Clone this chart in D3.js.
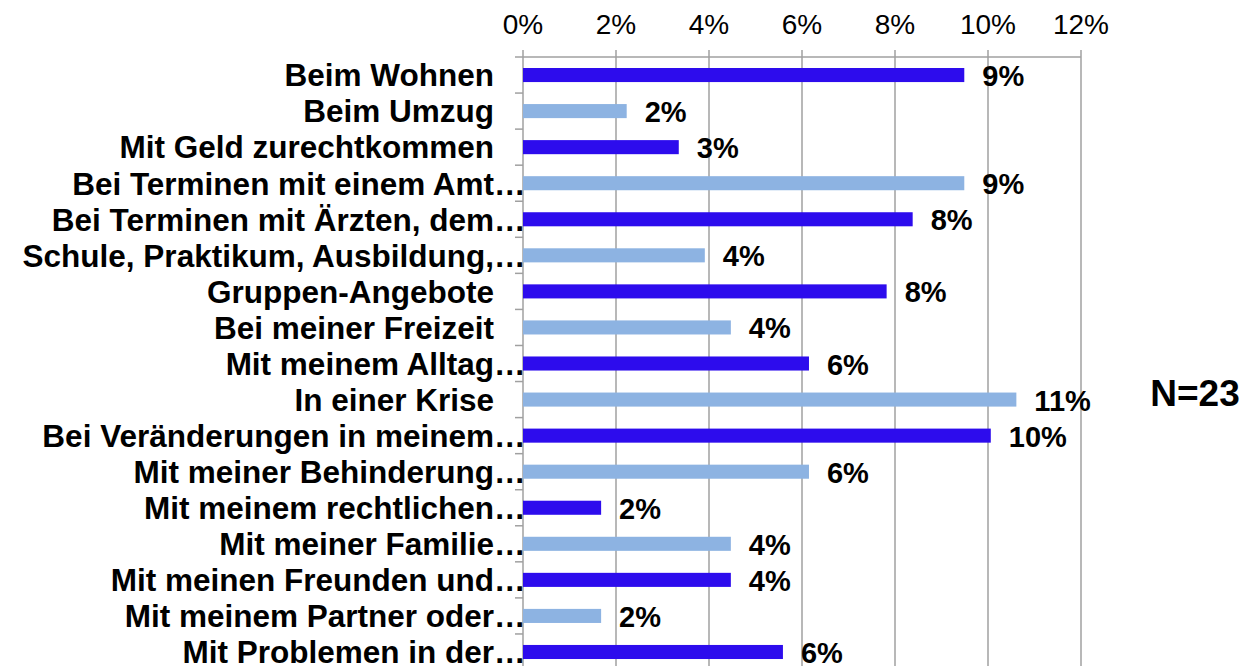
<!DOCTYPE html>
<meta charset="utf-8">
<style>
body { margin: 0; background: #fff; }
text { font-family: "Liberation Sans", Arial, sans-serif; }
.tick-label { font-size: 28px; }
.cat { font-size: 31.5px; font-weight: bold; }
.val { font-size: 29px; font-weight: bold; }
</style>
<body>
<div id="chart"></div>
<script src="https://d3js.org/d3.v7.min.js"></script>
<script>
// categories top to bottom, "…" marks labels cut off in the original
var categories = [
  "Beim Wohnen", "Beim Umzug", "Mit Geld zurechtkommen",
  "Bei Terminen mit einem Amt…", "Bei Terminen mit Ärzten, dem…",
  "Schule, Praktikum, Ausbildung,…", "Gruppen-Angebote", "Bei meiner Freizeit",
  "Mit meinem Alltag…", "In einer Krise", "Bei Veränderungen in meinem…",
  "Mit meiner Behinderung…", "Mit meinem rechtlichen…", "Mit meiner Familie…",
  "Mit meinen Freunden und…", "Mit meinem Partner oder…", "Mit Problemen in der…"
];
// percent
var values = [9.49, 2.23, 3.35, 9.49, 8.38, 3.91, 7.82, 4.47, 6.15, 10.61, 10.06, 6.15, 1.68, 4.47, 4.47, 1.68, 5.59];
var xTicks = [0, 2, 4, 6, 8, 10, 12];
var barColors = ["#2d0ced", "#8db3e2"];
var note = "N=23";

var width = 1253, height = 666;
var svg = d3.select("#chart").append("svg")
    .attr("width", width)
    .attr("height", height);

var x = d3.scaleLinear().domain([0, 12]).range([523, 1081]);
var y = d3.scaleBand().domain(categories).range([57, 57 + 17 * 36.06])
    .paddingInner(0.61).paddingOuter(0.305);
var pct = d3.format(".0%");

// grid lines
svg.append("g").selectAll("line")
    .data(xTicks)
  .enter().append("line")
    .attr("x1", function(d) { return x(d); })
    .attr("x2", function(d) { return x(d); })
    .attr("y1", 50)
    .attr("y2", height)
    .attr("stroke", "#a0a0a0")
    .attr("stroke-width", 1.5);

// top axis line
svg.append("line")
    .attr("x1", 515).attr("x2", x(12))
    .attr("y1", 57).attr("y2", 57)
    .attr("stroke", "#a0a0a0").attr("stroke-width", 1.5);

// left category ticks at band boundaries
svg.append("g").selectAll("line")
    .data(categories)
  .enter().append("line")
    .attr("x1", 515).attr("x2", x(0))
    .attr("y1", function(d) { return y(d) - y.step() * 0.305 + y.step(); })
    .attr("y2", function(d) { return y(d) - y.step() * 0.305 + y.step(); })
    .attr("stroke", "#a0a0a0").attr("stroke-width", 1.5);

// x tick labels
svg.append("g").selectAll("text")
    .data(xTicks)
  .enter().append("text")
    .attr("class", "tick-label")
    .attr("x", function(d) { return x(d); })
    .attr("y", 34)
    .attr("text-anchor", "middle")
    .text(function(d) { return d + "%"; });

// bars
svg.append("g").selectAll("rect")
    .data(values)
  .enter().append("rect")
    .attr("x", x(0))
    .attr("y", function(d, i) { return y(categories[i]); })
    .attr("width", function(d) { return x(d) - x(0); })
    .attr("height", y.bandwidth())
    .attr("fill", function(d, i) { return barColors[i % 2]; });

// value labels
svg.append("g").selectAll("text")
    .data(values)
  .enter().append("text")
    .attr("class", "val")
    .attr("x", function(d) { return x(d) + 18; })
    .attr("y", function(d, i) { return y(categories[i]) + y.bandwidth() / 2; })
    .attr("dy", "0.38em")
    .text(function(d) { return pct(d / 100); });

// category labels, ellipsis hangs past the label edge
var cat = svg.append("g").selectAll("g")
    .data(categories)
  .enter().append("g")
    .attr("transform", function(d) { return "translate(0," + (y(d) + y.bandwidth() / 2) + ")"; });

cat.append("text")
    .attr("class", "cat")
    .attr("x", 494)
    .attr("dy", "0.36em")
    .attr("text-anchor", "end")
    .text(function(d) { return d.replace("…", ""); });

cat.filter(function(d) { return d.slice(-1) == "…"; }).append("text")
    .attr("class", "cat")
    .attr("x", 494)
    .attr("dy", "0.36em")
    .text("…");

svg.append("text")
    .attr("x", 1195)
    .attr("y", 393)
    .attr("dy", "0.36em")
    .attr("text-anchor", "middle")
    .style("font-size", "37px")
    .style("font-weight", "bold")
    .text(note);
</script>
</body>
